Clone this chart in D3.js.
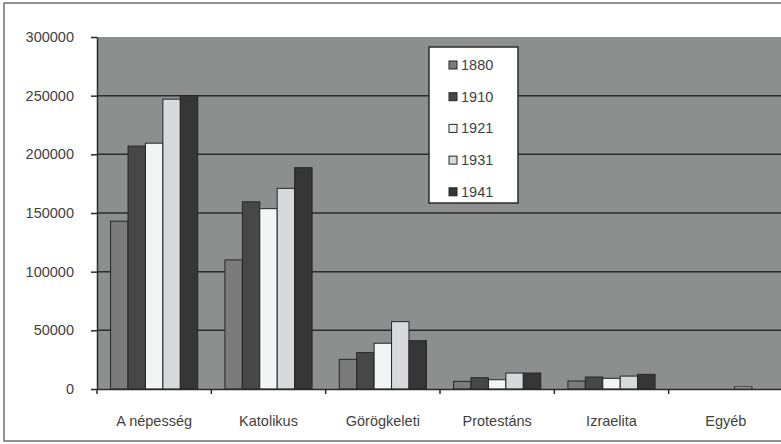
<!DOCTYPE html>
<html lang="hu">
<head>
  <meta charset="UTF-8">
  <title>Népesség felekezet szerint</title>
  <script src="https://d3js.org/d3.v7.min.js"></script>
  <style>
    body {
      margin: 0;
      padding: 0;
      background: #fff;
    }
    svg text {
      font-family: "Liberation Sans", Arial, sans-serif;
      fill: #3f3f3f;
    }
  </style>
</head>
<body>
  <svg id="chart" width="781" height="444"></svg>

  <script>
    // adatok
    const categories = ["A népesség", "Katolikus", "Görögkeleti", "Protestáns", "Izraelita", "Egyéb"];
    const years = ["1880", "1910", "1921", "1931", "1941"];
    const v1880 = [143000, 110000, 25300, 6500, 6800, 0];
    const v1910 = [207000, 159500, 31000, 9600, 10200, 0];
    const v1921 = [209500, 153700, 39000, 7900, 9100, 0];
    const v1931 = [247000, 171000, 57400, 13600, 11000, 1800];
    const v1941 = [250000, 188600, 41200, 13600, 12500, 0];
    const yTicks = [0, 50000, 100000, 150000, 200000, 250000, 300000];

    const seriesValues = [v1880, v1910, v1921, v1931, v1941];
    const colors = ["#7b7b7b", "#474747", "#f3f5f5", "#d6dada", "#363636"];

    const margin = { top: 37, right: -1, bottom: 55, left: 97 };
    const width = 781, height = 444;

    const svg = d3.select("#chart");

    // kulso keret
    svg.append("rect")
      .attr("x", 4).attr("y", 3)
      .attr("width", 800).attr("height", 438)
      .attr("fill", "none")
      .attr("stroke", "#6f6f6f")
      .attr("stroke-width", 1.5);

    const x = d3.scaleBand()
      .domain(categories)
      .range([margin.left, width - margin.right + 1])
      .padding(0);

    const xSub = d3.scaleBand()
      .domain(years)
      .range([0, x.bandwidth()])
      .paddingInner(0)
      .paddingOuter(0.78);

    const y = d3.scaleLinear()
      .domain([0, 300000])
      .range([height - margin.bottom, margin.top]);

    // rajzterulet hattere
    svg.append("rect")
      .attr("x", margin.left)
      .attr("y", y(300000))
      .attr("width", x.range()[1] - margin.left)
      .attr("height", y(0) - y(300000))
      .attr("fill", "#8d8e8e");

    // racsvonalak
    svg.append("g")
      .selectAll("line")
      .data(yTicks.filter(d => d > 0 && d < 300000))
      .join("line")
      .attr("x1", margin.left)
      .attr("x2", x.range()[1])
      .attr("y1", d => y(d))
      .attr("y2", d => y(d))
      .attr("stroke", "#2b2b2b")
      .attr("stroke-width", 1.5);

    // oszlopok
    const groups = svg.append("g")
      .selectAll("g")
      .data(years)
      .join("g")
      .attr("fill", (d, i) => colors[i]);

    groups.selectAll("rect")
      .data((yr, i) => categories.map((c, j) => ({ cat: c, year: yr, value: seriesValues[i][j] })))
      .join("rect")
      .filter(d => d.value > 0)
      .attr("x", d => x(d.cat) + xSub(d.year))
      .attr("y", d => y(d.value))
      .attr("width", xSub.bandwidth())
      .attr("height", d => y(0) - y(d.value))
      .attr("stroke", "#262626")
      .attr("stroke-width", 1);

    // Y tengely
    const yAxis = svg.append("g")
      .attr("transform", `translate(${margin.left},0)`)
      .call(d3.axisLeft(y).tickValues(yTicks).tickFormat(d3.format("d")).tickSize(6).tickSizeOuter(0).tickPadding(17));
    yAxis.select(".domain").attr("stroke", "#2b2b2b").attr("stroke-width", 1.5);
    yAxis.selectAll(".tick line").attr("stroke", "#2b2b2b").attr("stroke-width", 1.5);
    yAxis.selectAll("text").attr("font-size", "14.5px").attr("fill", "#444");

    // X tengely
    const xAxis = svg.append("g")
      .attr("transform", `translate(0,${y(0)})`)
      .call(d3.axisBottom(x).tickSize(0).tickPadding(27).tickSizeOuter(0));
    xAxis.select(".domain").attr("stroke", "#2b2b2b").attr("stroke-width", 1.5);
    xAxis.selectAll("text").attr("font-size", "14.5px").attr("fill", "#444");

    // kategoriahatar jelolok
    svg.append("g")
      .selectAll("line")
      .data(categories)
      .join("line")
      .attr("x1", d => x(d))
      .attr("x2", d => x(d))
      .attr("y1", y(0))
      .attr("y2", y(0) + 5)
      .attr("stroke", "#2b2b2b")
      .attr("stroke-width", 1.5);

    // jelmagyarazat
    const legend = svg.append("g").attr("transform", "translate(429,47)");
    legend.append("rect")
      .attr("width", 89)
      .attr("height", 156)
      .attr("fill", "#fff")
      .attr("stroke", "#2b2b2b")
      .attr("stroke-width", 1.5);

    const items = legend.selectAll("g.item")
      .data(years)
      .join("g")
      .attr("class", "item")
      .attr("transform", (d, i) => `translate(20,${18 + i * 31.7})`);

    items.append("rect")
      .attr("x", 0).attr("y", -4)
      .attr("width", 8).attr("height", 8)
      .attr("fill", (d, i) => colors[i])
      .attr("stroke", "#262626")
      .attr("stroke-width", 1);

    items.append("text")
      .attr("x", 12)
      .attr("y", 5)
      .attr("font-size", "14.5px")
      .attr("fill", "#444")
      .text(d => d);
  </script>
</body>
</html>
